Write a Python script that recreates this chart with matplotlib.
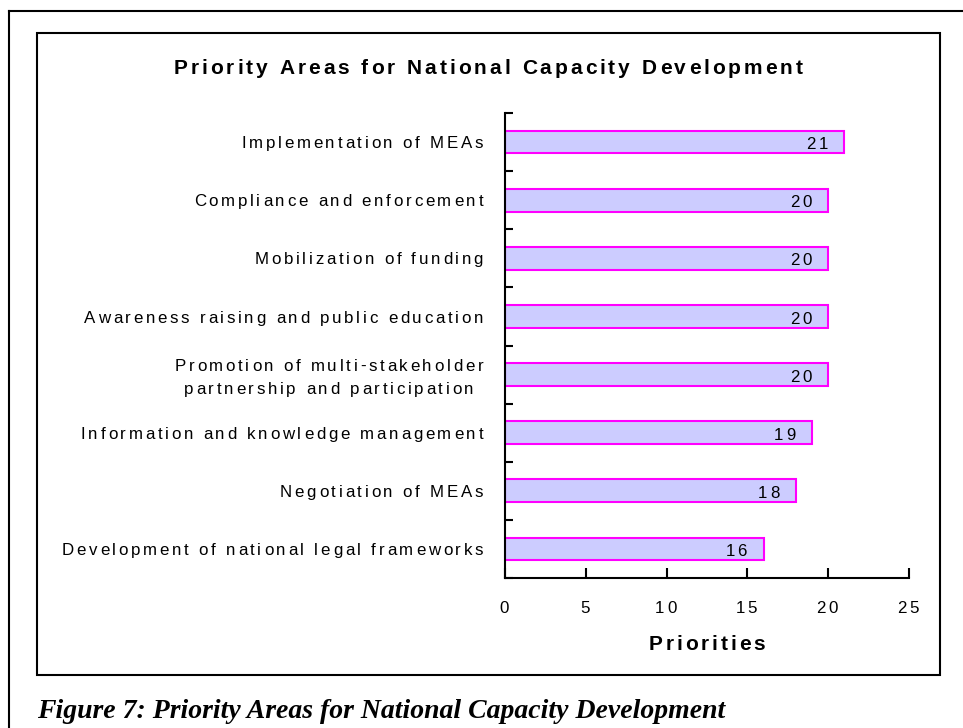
import numpy as np
import matplotlib
matplotlib.use("Agg")
import matplotlib.pyplot as plt
from matplotlib import font_manager
from matplotlib.font_manager import FontProperties
from matplotlib.ft2font import FT2Font
from matplotlib.lines import Line2D
from matplotlib.patches import Rectangle

W, H = 963, 728
DPI = 100

categories = [
    "Implementation of MEAs",
    "Compliance and enforcement",
    "Mobilization of funding",
    "Awareness raising and public education",
    "Promotion of multi-stakeholder\npartnership and participation",
    "Information and knowledge management",
    "Negotiation of MEAs",
    "Development of national legal frameworks",
]
priorities = [21, 20, 20, 20, 20, 19, 18, 16]
x_ticks = [0, 5, 10, 15, 20, 25]

title = "Priority Areas for National Capacity Development"
x_label = "Priorities"
caption = "Figure 7: Priority Areas for National Capacity Development"

BAR_FILL = "#CCCCFF"
BAR_EDGE = "#FF00FF"
SANS = "Liberation Sans"

_fonts = {}


def glyph_advances(s, size, weight):
    key = (weight, size)
    if key not in _fonts:
        path = font_manager.findfont(FontProperties(family=SANS, weight=weight))
        f = FT2Font(path)
        f.set_size(size, DPI)
        _fonts[key] = f
    f = _fonts[key]
    return [f.load_char(ord(c)).linearHoriAdvance / 65536 for c in s]


def text_width(s, size, track, weight="normal"):
    return sum(glyph_advances(s, size, weight)) + track * (len(s) - 1)


def spaced_text(fig, x, y, s, size, track, ha="left", weight="normal"):
    # x, y are pixels from the top-left corner, y on the baseline
    adv = glyph_advances(s, size, weight)
    total = sum(adv) + track * (len(s) - 1)
    if ha == "center":
        x -= total / 2
    elif ha == "right":
        x -= total
    for c, a in zip(s, adv):
        if c != " ":
            fig.text(x / W, 1 - y / H, c, fontsize=size, family=SANS,
                     weight=weight, ha="left", va="baseline", color="black")
        x += a + track
    return total


def to_px(ax, x, y):
    dx, dy = ax.transData.transform((x, y))
    return dx, H - dy


fig = plt.figure(figsize=(W / DPI, H / DPI), dpi=DPI)
fig.patch.set_facecolor("white")

# page frame and chart border
lw = 1.5
fig.add_artist(Line2D([9 / W, 1], [1 - 11 / H, 1 - 11 / H], color="black", lw=lw))
fig.add_artist(Line2D([9 / W, 9 / W], [1 - 11 / H, 0], color="black", lw=lw))
fig.add_artist(Rectangle((37 / W, 1 - 675 / H), (940 - 37) / W, (675 - 33) / H,
                         fill=False, edgecolor="black", lw=lw))

ax = fig.add_axes([505 / W, 1 - 578 / H, (909 - 505) / W, (578 - 113) / H])
ypos = np.arange(len(categories))
ax.barh(ypos, priorities, height=0.39, color=BAR_FILL, edgecolor=BAR_EDGE, linewidth=1.5)
ax.set_xlim(0, 25)
ax.set_ylim(len(categories) - 0.5, -0.5)
for side in ("top", "right"):
    ax.spines[side].set_visible(False)
for side in ("left", "bottom"):
    ax.spines[side].set_linewidth(1.5)
ax.set_xticks(x_ticks)
ax.set_yticks(np.arange(-0.5, len(categories), 1.0))
ax.tick_params(axis="x", direction="in", length=7, width=1.5, labelbottom=False)
ax.tick_params(axis="y", direction="in", length=6, width=1.5, labelleft=False)

LABEL_PT = 12.2
TRACK = 2.75
cap = 0.716 * LABEL_PT * DPI / 72

# category labels, right-aligned against the axis
for i, name in enumerate(categories):
    _, yc = to_px(ax, 0, i)
    lines = name.split("\n")
    if len(lines) == 1:
        spaced_text(fig, 483, yc + cap / 2, name, LABEL_PT, TRACK, ha="right")
    else:
        widths = [text_width(l, LABEL_PT, TRACK) for l in lines]
        xc = 483 - max(widths) / 2
        for k, line in enumerate(lines):
            yy = yc + 2 + (k - (len(lines) - 1) / 2) * 23
            spaced_text(fig, xc, yy + cap / 2, line, LABEL_PT, TRACK, ha="center")

# value labels inside the bar ends
for i, v in enumerate(priorities):
    xv, yc = to_px(ax, v - 1.7, i)
    spaced_text(fig, xv, yc + cap / 2 + 1, str(v), LABEL_PT, TRACK, ha="center")

# x tick labels
for t in x_ticks:
    xt, _ = to_px(ax, t, 0)
    spaced_text(fig, xt - 1, 607 + cap / 2, str(t), LABEL_PT, TRACK, ha="center")

BOLD_PT = 15
bcap = 0.716 * BOLD_PT * DPI / 72
spaced_text(fig, 488, 67 + bcap / 2, title, BOLD_PT, 3.0, ha="center", weight="bold")
x_mid, _ = to_px(ax, 12.5, 0)
spaced_text(fig, x_mid, 643 + bcap / 2, x_label, BOLD_PT, 2.9, ha="center", weight="bold")

fig.text(37 / W, 1 - 718 / H, caption, fontsize=20, family="Liberation Serif",
         weight="bold", style="italic", ha="left", va="baseline", color="black")

fig.savefig("out.png", dpi=DPI, facecolor="white")
